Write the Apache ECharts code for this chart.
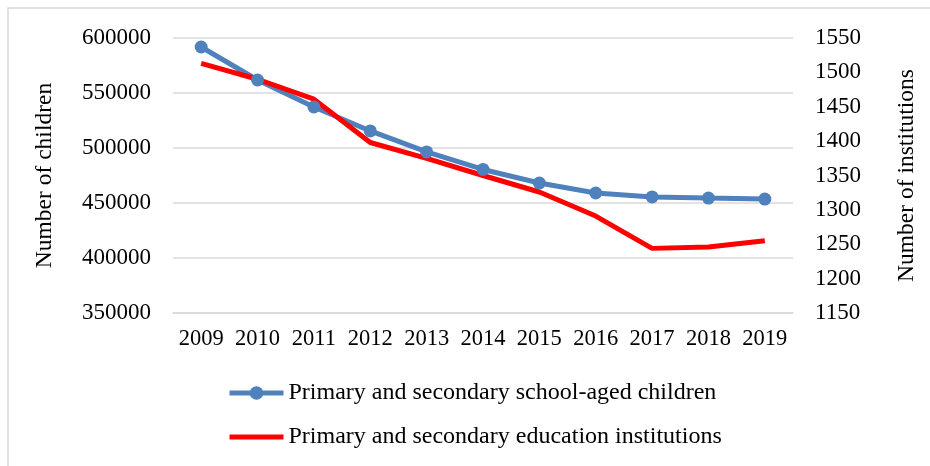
<!DOCTYPE html>
<html>
<head>
<meta charset="utf-8">
<script src="https://cdn.jsdelivr.net/npm/echarts@6/dist/echarts.min.js"></script>
<style>
  html, body { margin: 0; padding: 0; background: #fff; }
  #chart { width: 930px; height: 466px; }
</style>
</head>
<body>
<div id="chart"></div>
<script>
var years = ['2009', '2010', '2011', '2012', '2013', '2014', '2015', '2016', '2017', '2018', '2019'];
var children = [591800, 561800, 537300, 515500, 496400, 480500, 468200, 459100, 455500, 454500, 453600];
var institutions = [1513, 1490, 1461, 1398, 1375, 1350, 1326, 1291, 1244, 1246, 1255];

var font = '"Liberation Serif", "Times New Roman", serif';
var chart = echarts.init(document.getElementById('chart'));

chart.setOption({
  textStyle: { fontFamily: font },
  animation: false,
  graphic: [{
    type: 'rect',
    shape: { x: 8, y: 8, width: 1000, height: 1000 },
    style: { fill: 'none', stroke: '#d9d9d9', lineWidth: 1.5 }
  }],
  grid: { left: 173, right: 137, top: 38, bottom: 153 },
  legend: {
    orient: 'vertical',
    left: 222,
    top: 376,
    itemGap: 20,
    itemWidth: 54,
    itemHeight: 17,
    lineStyle: { width: 5 },
    textStyle: { fontFamily: font, fontSize: 24, color: '#000' },
    data: [
      { name: 'Primary and secondary school-aged children' },
      { name: 'Primary and secondary education institutions', itemStyle: { opacity: 0 } }
    ]
  },
  xAxis: {
    type: 'category',
    data: years,
    axisLine: { lineStyle: { color: '#d9d9d9', width: 1.5 } },
    axisTick: { show: false },
    axisLabel: { fontFamily: font, fontSize: 22.5, color: '#000', margin: 15, interval: 0 }
  },
  yAxis: [{
    type: 'value',
    min: 350000,
    max: 600000,
    interval: 50000,
    name: 'Number of children',
    nameLocation: 'middle',
    nameGap: 116,
    nameRotate: 90,
    nameTextStyle: { fontFamily: font, fontSize: 23.5, color: '#000' },
    axisLine: { show: false },
    axisTick: { show: false },
    axisLabel: { fontFamily: font, fontSize: 23, color: '#000', margin: 22, formatter: function (v) { return String(v); } },
    splitLine: { lineStyle: { color: '#d9d9d9', width: 1.5 } }
  }, {
    type: 'value',
    position: 'right',
    min: 1150,
    max: 1550,
    interval: 50,
    name: 'Number of institutions',
    nameLocation: 'middle',
    nameGap: 102,
    nameRotate: 90,
    nameTextStyle: { fontFamily: font, fontSize: 23.5, color: '#000' },
    axisLine: { show: false },
    axisTick: { show: false },
    axisLabel: { fontFamily: font, fontSize: 23, color: '#000', margin: 22, formatter: function (v) { return String(v); } },
    splitLine: { show: false }
  }],
  series: [{
    name: 'Primary and secondary school-aged children',
    type: 'line',
    yAxisIndex: 0,
    data: children,
    symbol: 'circle',
    symbolSize: 13,
    itemStyle: { color: '#4f81bd' },
    lineStyle: { color: '#4f81bd', width: 5 }
  }, {
    name: 'Primary and secondary education institutions',
    type: 'line',
    yAxisIndex: 1,
    data: institutions,
    symbol: 'none',
    itemStyle: { color: '#ff0000' },
    lineStyle: { color: '#ff0000', width: 5 }
  }]
});
</script>
</body>
</html>
